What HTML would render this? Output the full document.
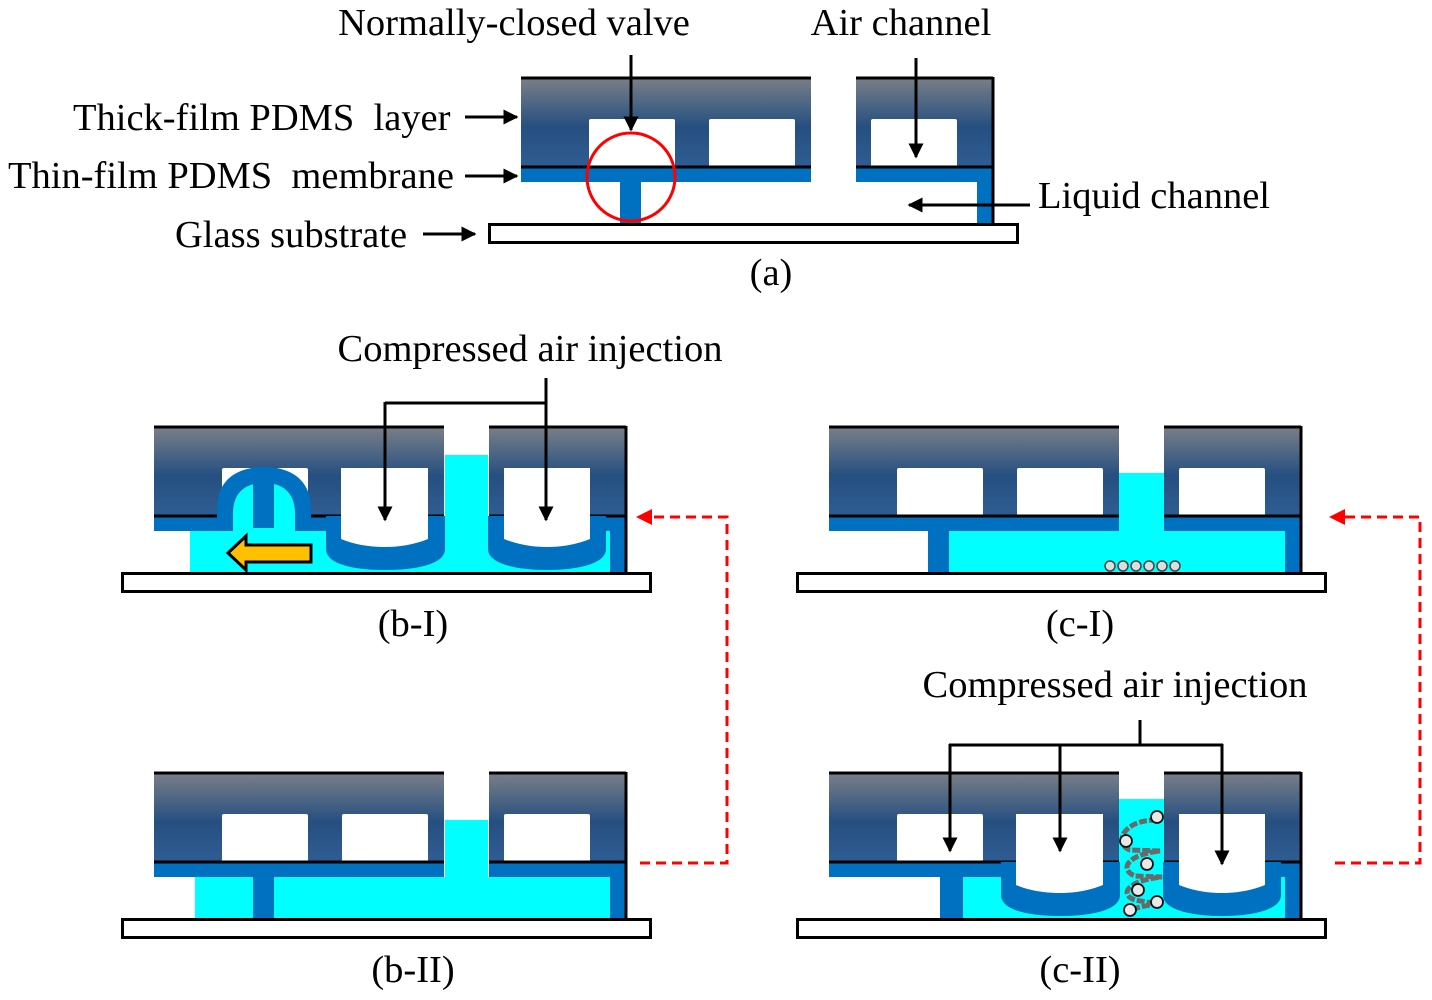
<!DOCTYPE html>
<html><head><meta charset="utf-8"><style>
html,body{margin:0;padding:0;background:#fff;}
svg{display:block;}
text{font-family:"Liberation Serif",serif;font-size:38.5px;fill:#000;}
</style></head><body>
<svg width="1432" height="1000" viewBox="0 0 1432 1000" xmlns="http://www.w3.org/2000/svg">
<defs>
<linearGradient id="g" x1="0" y1="77" x2="0" y2="167" gradientUnits="userSpaceOnUse">
<stop offset="0" stop-color="#7c8087"/><stop offset="0.55" stop-color="#264f80"/><stop offset="1" stop-color="#2f5d93"/>
</linearGradient>
<marker id="ah" viewBox="0 0 10 10" refX="9" refY="5" markerWidth="5" markerHeight="5" orient="auto"><path d="M0,0 L10,5 L0,10 Z" fill="#000"/></marker>
<g id="blocks">
<rect x="521" y="77" width="290" height="90" fill="url(#g)"/>
<rect x="856" y="77" width="137" height="90" fill="url(#g)"/>
<rect x="589" y="119" width="86" height="48" rx="2" fill="#fff"/>
<rect x="709" y="119" width="86" height="48" rx="2" fill="#fff"/>
<rect x="871" y="119" width="86" height="48" rx="2" fill="#fff"/>
</g>
<g id="lines" stroke="#000" stroke-width="3" fill="none">
<line x1="521" y1="78" x2="811" y2="78"/>
<line x1="856" y1="78" x2="993" y2="78"/>
<line x1="521" y1="167" x2="811" y2="167"/>
<line x1="856" y1="167" x2="993" y2="167"/>
<line x1="993" y1="77" x2="993" y2="223"/>
<rect x="489.5" y="224.5" width="528" height="18" fill="#fff"/>
</g>
<g id="memR" fill="#0070c0">
<rect x="856" y="168" width="137" height="14"/>
<rect x="977" y="168" width="16" height="55"/>
</g>
<g id="U2">
<path d="M693 167 L693 200 C693 215 720 221 752 221 C784 221 812 215 812 200 L812 167 Z" fill="#0070c0"/>
<path d="M708 119 L795 119 L795 190 C780 196 766 198 752 198 C738 198 722 196 708 190 Z" fill="#fff"/>
</g>
<g id="U3">
<path d="M855 167 L855 200 C855 215 884 221 914 221 C944 221 973 215 973 200 L973 167 Z" fill="#0070c0"/>
<path d="M871 119 L957 119 L957 190 C942 196 928 198 914 198 C900 198 886 196 871 190 Z" fill="#fff"/>
</g>
</defs>

<!-- Panel a -->
<use href="#blocks"/>
<rect x="521" y="168" width="290" height="14" fill="#0070c0"/>
<use href="#memR"/>
<rect x="620" y="182" width="21" height="41" fill="#0070c0"/>
<use href="#lines"/>
<ellipse cx="631" cy="177" rx="44" ry="44" fill="none" stroke="#f00" stroke-width="3"/>

<!-- Panel b-I -->
<g transform="translate(-367,349)">
<use href="#blocks"/>
<rect x="557" y="182" width="420" height="41" fill="#0ff"/>
<rect x="812" y="106" width="43" height="76" fill="#0ff"/>
<rect x="521" y="168" width="70" height="14" fill="#0070c0"/>
<rect x="670" y="168" width="30" height="14" fill="#0070c0"/>
<use href="#memR"/>
<use href="#lines"/>
<path d="M600 182 L600 165 C600 142 614 134 631 134 C648 134 662 142 662 165 L662 182 Z" fill="#0ff"/>
<path d="M584 182 L584 160 C584 130 605 118 631 118 C657 118 678 130 678 160 L678 182 L662 182 L662 165 C662 142 648 134 631 134 C614 134 600 142 600 165 L600 182 Z" fill="#0070c0"/>
<rect x="620" y="130" width="21" height="49" fill="#0070c0"/>
<use href="#U2"/>
<use href="#U3"/>
</g>
<path d="M228 553 L246 536 L246 545 L311 545 L311 562 L246 562 L246 570 Z" fill="#ffc000" stroke="#000" stroke-width="3"/>

<!-- Panel c-I -->
<g transform="translate(308,349)">
<use href="#blocks"/>
<rect x="641" y="182" width="336" height="41" fill="#0ff"/>
<rect x="811" y="124" width="45" height="58" fill="#0ff"/>
<rect x="521" y="168" width="290" height="14" fill="#0070c0"/>
<use href="#memR"/>
<rect x="620" y="182" width="21" height="41" fill="#0070c0"/>
<use href="#lines"/>
</g>
<g fill="#ddd" stroke="#444" stroke-width="1.5">
<circle cx="1110" cy="566" r="5"/><circle cx="1123" cy="566" r="5"/><circle cx="1136" cy="566" r="5"/><circle cx="1149" cy="566" r="5"/><circle cx="1162" cy="566" r="5"/><circle cx="1175" cy="566" r="5"/>
</g>

<!-- Panel b-II -->
<g transform="translate(-367,695)">
<use href="#blocks"/>
<rect x="562" y="182" width="415" height="41" fill="#0ff"/>
<rect x="812" y="125" width="43" height="57" fill="#0ff"/>
<rect x="521" y="168" width="290" height="14" fill="#0070c0"/>
<use href="#memR"/>
<rect x="620" y="182" width="21" height="41" fill="#0070c0"/>
<use href="#lines"/>
</g>

<!-- Panel c-II -->
<g transform="translate(308,695)">
<use href="#blocks"/>
<rect x="655" y="182" width="322" height="41" fill="#0ff"/>
<rect x="811" y="104" width="45" height="78" fill="#0ff"/>
<rect x="521" y="168" width="290" height="14" fill="#0070c0"/>
<use href="#memR"/>
<rect x="632" y="182" width="23" height="41" fill="#0070c0"/>
<use href="#lines"/>
<use href="#U2"/>
<use href="#U3"/>
</g>
<path d="M1157 820 C1120 820 1115 845 1130 850 L1160 851 C1125 855 1120 870 1135 876 L1162 877 C1125 881 1120 895 1135 900 L1158 904 C1140 906 1130 910 1126 912" fill="none" stroke="#6a6a6a" stroke-width="5" stroke-dasharray="8 2"/>
<g fill="#e8e8e8" stroke="#111" stroke-width="1.8">
<circle cx="1157" cy="817" r="6"/><circle cx="1126" cy="841" r="6"/><circle cx="1147" cy="864" r="6"/><circle cx="1138" cy="890" r="6"/><circle cx="1157" cy="902" r="6"/><circle cx="1130" cy="910" r="6"/>
</g>

<!-- label arrows -->
<g stroke="#000" stroke-width="3" fill="none">
<line x1="465" y1="117" x2="517" y2="117" marker-end="url(#ah)"/>
<line x1="465" y1="176" x2="517" y2="176" marker-end="url(#ah)"/>
<line x1="423" y1="234" x2="475" y2="234" marker-end="url(#ah)"/>
<line x1="631" y1="55" x2="631" y2="130" marker-end="url(#ah)"/>
<line x1="916" y1="58" x2="916" y2="157" marker-end="url(#ah)"/>
<line x1="1030" y1="205" x2="909" y2="205" marker-end="url(#ah)"/>
<polyline points="546,378 546,403 385,403"/>
<line x1="385" y1="402" x2="385" y2="520" marker-end="url(#ah)"/>
<line x1="546" y1="403" x2="546" y2="520" marker-end="url(#ah)"/>
<line x1="1140" y1="720" x2="1140" y2="745"/>
<line x1="949" y1="745" x2="1223" y2="745"/>
<line x1="950" y1="744" x2="950" y2="851" marker-end="url(#ah)"/>
<line x1="1060" y1="744" x2="1060" y2="851" marker-end="url(#ah)"/>
<line x1="1222" y1="744" x2="1222" y2="864" marker-end="url(#ah)"/>
</g>
<g stroke="#f00" stroke-width="3" fill="none" stroke-dasharray="10 6">
<polyline points="640,863 727,863 727,517 640,517"/>
<polyline points="1335,863 1420,863 1420,517 1333,517"/>
</g>
<path d="M636 517 L652 509 L652 525 Z" fill="#f00"/>
<path d="M1329 517 L1345 509 L1345 525 Z" fill="#f00"/>

<!-- text -->
<text x="514" y="35" text-anchor="middle">Normally-closed valve</text>
<text x="901" y="35" text-anchor="middle">Air channel</text>
<text x="73" y="130" xml:space="preserve">Thick-film PDMS  layer</text>
<text x="8" y="188" xml:space="preserve">Thin-film PDMS  membrane</text>
<text x="175" y="247">Glass substrate</text>
<text x="1038" y="208">Liquid channel</text>
<text x="771" y="285" text-anchor="middle">(a)</text>
<text x="530" y="361" text-anchor="middle">Compressed air injection</text>
<text x="413" y="636" text-anchor="middle">(b-I)</text>
<text x="1080" y="636" text-anchor="middle">(c-I)</text>
<text x="1115" y="697" text-anchor="middle">Compressed air injection</text>
<text x="413" y="982" text-anchor="middle">(b-II)</text>
<text x="1080" y="982" text-anchor="middle">(c-II)</text>
</svg>
</body></html>
